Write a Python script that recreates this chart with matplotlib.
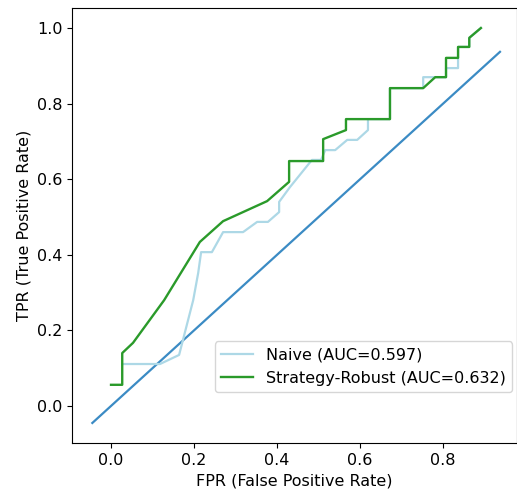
import matplotlib
matplotlib.use("Agg")
import matplotlib.pyplot as plt
import numpy as np


# ROC points
naive_fpr = [0.027, 0.118, 0.164, 0.198, 0.210, 0.217, 0.243, 0.270, 0.318, 0.352,
             0.378, 0.405, 0.405, 0.431, 0.484, 0.506, 0.516, 0.540, 0.569, 0.593,
             0.619, 0.619, 0.672, 0.672, 0.752, 0.752, 0.807, 0.807, 0.836, 0.836,
             0.836, 0.863, 0.863, 0.891]
naive_tpr = [0.111, 0.111, 0.135, 0.280, 0.352, 0.407, 0.407, 0.460, 0.460, 0.487,
             0.487, 0.513, 0.540, 0.579, 0.651, 0.651, 0.677, 0.677, 0.704, 0.704,
             0.730, 0.759, 0.759, 0.841, 0.841, 0.870, 0.870, 0.894, 0.894, 0.921,
             0.950, 0.950, 0.974, 1.000]

robust_fpr = [0.000, 0.027, 0.027, 0.053, 0.128, 0.214, 0.270, 0.376, 0.429, 0.429,
              0.511, 0.511, 0.566, 0.566, 0.672, 0.672, 0.752, 0.781, 0.807, 0.807,
              0.836, 0.836, 0.863, 0.863, 0.891]
robust_tpr = [0.056, 0.056, 0.140, 0.167, 0.280, 0.434, 0.489, 0.542, 0.593, 0.648,
              0.648, 0.706, 0.730, 0.759, 0.759, 0.841, 0.841, 0.870, 0.870, 0.921,
              0.921, 0.950, 0.950, 0.974, 1.000]

diag = [-0.045, 0.937]

naive_auc = 0.597
robust_auc = 0.632


def main():
    plt.rcParams["font.size"] = 11.5
    fig = plt.figure(figsize=(5.17, 4.98), dpi=100)
    ax = fig.add_axes([72 / 517, 55 / 498, 445 / 517, 435 / 498])

    ax.plot(diag, diag, color="#3b8bc4", linewidth=1.6)
    ax.plot(naive_fpr, naive_tpr, color="lightblue", linewidth=1.6,
            label=f"Naive (AUC={naive_auc:.3f})")
    ax.plot(robust_fpr, robust_tpr, color="#2a9a2a", linewidth=1.7,
            label=f"Strategy-Robust (AUC={robust_auc:.3f})")

    ax.set_xlim(-0.094, 0.978)
    ax.set_ylim(-0.098, 1.053)
    ax.set_xticks(np.arange(0, 0.81, 0.2))
    ax.set_yticks(np.arange(0, 1.01, 0.2))
    ax.set_xlabel("FPR (False Positive Rate)")
    ax.set_ylabel("TPR (True Positive Rate)")
    ax.legend(loc="lower right", bbox_to_anchor=(0.989, 0.117), borderaxespad=0)

    fig.savefig("out.png", dpi=100)


if __name__ == "__main__":
    main()
